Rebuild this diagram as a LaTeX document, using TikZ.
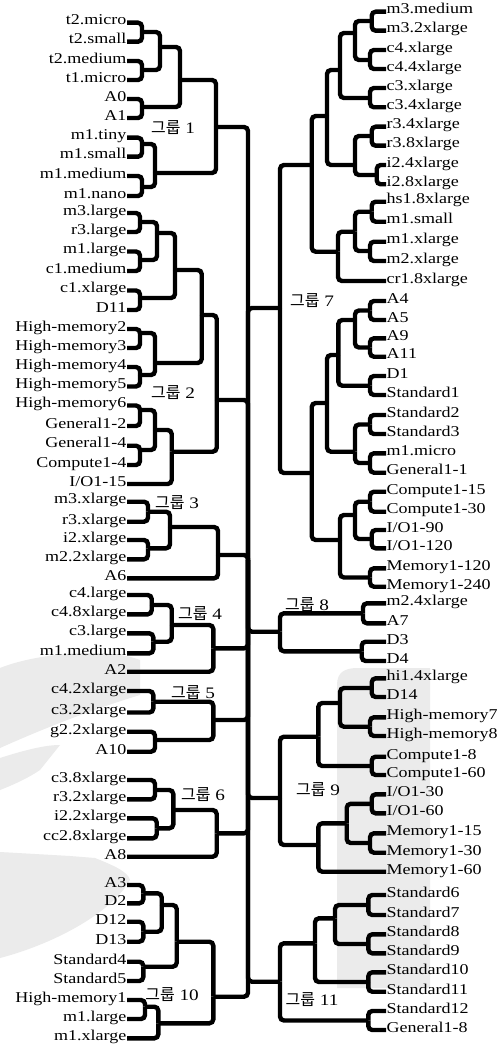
\documentclass[tikz,border=0pt]{standalone}
\usepackage{fontspec}
\setmainfont{Liberation Serif}[FakeStretch=1.2]
\newfontfamily\kor{Noto Sans CJK KR}
\definecolor{wm}{HTML}{EBEBEB}
\begin{document}
\begin{tikzpicture}[x=1pt,y=-1pt,
  tree/.style={line width=4.4pt, rounded corners=4pt},
  lleaf/.style={anchor=mid east, inner xsep=0.5pt, inner ysep=0pt, font=\fontsize{15}{15}\selectfont},
  rleaf/.style={anchor=mid west, inner xsep=0.5pt, inner ysep=0pt, font=\fontsize{15}{15}\selectfont},
  glabel/.style={inner sep=0pt, font=\fontsize{16}{16}\selectfont},
  mark/.style={fill=wm, draw=none}
]
\fill[white] (0,0) rectangle (502,1051);
\useasboundingbox (0,0) rectangle (502,1051);

% ---------- faint background marks ----------
\fill[wm] (0,668) .. controls (40,652) and (110,648) .. (140,660) -- (140,695) .. controls (90,710) and (40,730) .. (0,748) -- cycle;
\fill[wm] (0,758) .. controls (25,750) and (45,745) .. (60,745) -- (40,770) .. controls (25,780) and (10,786) .. (0,790) -- cycle;
\fill[wm] (0,852) -- (70,856) -- (95,858) .. controls (115,866) and (128,872) .. (130,880) .. controls (110,915) and (50,945) .. (0,958) -- cycle;
\fill[wm] (337,685) .. controls (337,672) and (345,668) .. (358,668) -- (430,668) -- (430,988) -- (337,988) -- cycle;

% ---------- left leaves ----------
\node[lleaf] (L1) at (127,22.7) {t2.micro};
\node[lleaf] (L2) at (127,41.7) {t2.small};
\node[lleaf] (L3) at (127,61) {t2.medium};
\node[lleaf] (L4) at (127,80) {t1.micro};
\node[lleaf] (L5) at (127,99) {A0};
\node[lleaf] (L6) at (127,118) {A1};
\node[lleaf] (L7) at (127,137.7) {m1.tiny};
\node[lleaf] (L8) at (127,156.7) {m1.small};
\node[lleaf] (L9) at (127,176) {m1.medium};
\node[lleaf] (L10) at (127,196) {m1.nano};
\node[lleaf] (L11) at (127,213) {m3.large};
\node[lleaf] (L12) at (127,232) {r3.large};
\node[lleaf] (L13) at (127,251.5) {m1.large};
\node[lleaf] (L14) at (127,271) {c1.medium};
\node[lleaf] (L15) at (127,290.5) {c1.xlarge};
\node[lleaf] (L16) at (127,310) {D11};
\node[lleaf] (L17) at (127,329) {High-memory2};
\node[lleaf] (L18) at (127,348) {High-memory3};
\node[lleaf] (L19) at (127,367) {High-memory4};
\node[lleaf] (L20) at (127,386.5) {High-memory5};
\node[lleaf] (L21) at (127,405.5) {High-memory6};
\node[lleaf] (L22) at (127,426) {General1-2};
\node[lleaf] (L23) at (127,445.7) {General1-4};
\node[lleaf] (L24) at (127,465) {Compute1-4};
\node[lleaf] (L25) at (127,484) {I/O1-15};
\node[lleaf] (L26) at (127,501.7) {m3.xlarge};
\node[lleaf] (L27) at (127,521.7) {r3.xlarge};
\node[lleaf] (L28) at (127,540) {i2.xlarge};
\node[lleaf] (L29) at (127,559.3) {m2.2xlarge};
\node[lleaf] (L30) at (127,578.3) {A6};
\node[lleaf] (L31) at (127,595) {c4.large};
\node[lleaf] (L32) at (127,614.3) {c4.8xlarge};
\node[lleaf] (L33) at (127,633.3) {c3.large};
\node[lleaf] (L34) at (127,653.3) {m1.medium};
\node[lleaf] (L35) at (127,671.7) {A2};
\node[lleaf] (L36) at (127,691) {c4.2xlarge};
\node[lleaf] (L37) at (127,712.5) {c3.2xlarge};
\node[lleaf] (L38) at (127,731.7) {g2.2xlarge};
\node[lleaf] (L39) at (127,751.7) {A10};
\node[lleaf] (L40) at (127,780) {c3.8xlarge};
\node[lleaf] (L41) at (127,799.3) {r3.2xlarge};
\node[lleaf] (L42) at (127,818.3) {i2.2xlarge};
\node[lleaf] (L43) at (127,838.3) {cc2.8xlarge};
\node[lleaf] (L44) at (127,856.7) {A8};
\node[lleaf] (L45) at (127,885) {A3};
\node[lleaf] (L46) at (127,903.3) {D2};
\node[lleaf] (L47) at (127,921.7) {D12};
\node[lleaf] (L48) at (127,941.7) {D13};
\node[lleaf] (L49) at (127,961.7) {Standard4};
\node[lleaf] (L50) at (127,981) {Standard5};
\node[lleaf] (L51) at (127,1000) {High-memory1};
\node[lleaf] (L52) at (127,1019) {m1.large};
\node[lleaf] (L53) at (127,1038.3) {m1.xlarge};

% ---------- right leaves ----------
\node[rleaf] (R1) at (386,11.7) {m3.medium};
\node[rleaf] (R2) at (386,30.7) {m3.2xlarge};
\node[rleaf] (R3) at (386,50) {c4.xlarge};
\node[rleaf] (R4) at (386,69) {c4.4xlarge};
\node[rleaf] (R5) at (386,88) {c3.xlarge};
\node[rleaf] (R6) at (386,107.3) {c3.4xlarge};
\node[rleaf] (R7) at (386,126.7) {r3.4xlarge};
\node[rleaf] (R8) at (386,145.7) {r3.8xlarge};
\node[rleaf] (R9) at (386,165) {i2.4xlarge};
\node[rleaf] (R10) at (386,184.3) {i2.8xlarge};
\node[rleaf] (R11) at (386,201.7) {hs1.8xlarge};
\node[rleaf] (R12) at (386,221.7) {m1.small};
\node[rleaf] (R13) at (386,241.7) {m1.xlarge};
\node[rleaf] (R14) at (386,261) {m2.xlarge};
\node[rleaf] (R15) at (386,281) {cr1.8xlarge};
\node[rleaf] (R16) at (386,301) {A4};
\node[rleaf] (R17) at (386,320) {A5};
\node[rleaf] (R18) at (386,338.3) {A9};
\node[rleaf] (R19) at (386,356.7) {A11};
\node[rleaf] (R20) at (386,376) {D1};
\node[rleaf] (R21) at (386,395) {Standard1};
\node[rleaf] (R22) at (386,415) {Standard2};
\node[rleaf] (R23) at (386,434) {Standard3};
\node[rleaf] (R24) at (386,453.3) {m1.micro};
\node[rleaf] (R25) at (386,472.7) {General1-1};
\node[rleaf] (R26) at (386,491.7) {Compute1-15};
\node[rleaf] (R27) at (386,511.7) {Compute1-30};
\node[rleaf] (R28) at (386,530) {I/O1-90};
\node[rleaf] (R29) at (386,548.3) {I/O1-120};
\node[rleaf] (R30) at (386,568.3) {Memory1-120};
\node[rleaf] (R31) at (386,586.7) {Memory1-240};
\node[rleaf] (R32) at (386,603.3) {m2.4xlarge};
\node[rleaf] (R33) at (386,623.3) {A7};
\node[rleaf] (R34) at (386,641.7) {D3};
\node[rleaf] (R35) at (386,661) {D4};
\node[rleaf] (R36) at (386,678.3) {hi1.4xlarge};
\node[rleaf] (R37) at (386,697) {D14};
\node[rleaf] (R38) at (386,717.3) {High-memory7};
\node[rleaf] (R39) at (386,736) {High-memory8};
\node[rleaf] (R40) at (386,756.7) {Compute1-8};
\node[rleaf] (R41) at (386,775) {Compute1-60};
\node[rleaf] (R42) at (386,794.3) {I/O1-30};
\node[rleaf] (R43) at (386,813.3) {I/O1-60};
\node[rleaf] (R44) at (386,833.3) {Memory1-15};
\node[rleaf] (R45) at (386,852.7) {Memory1-30};
\node[rleaf] (R46) at (386,871.7) {Memory1-60};
\node[rleaf] (R47) at (386,895) {Standard6};
\node[rleaf] (R48) at (386,915) {Standard7};
\node[rleaf] (R49) at (386,934.3) {Standard8};
\node[rleaf] (R50) at (386,953.3) {Standard9};
\node[rleaf] (R51) at (386,972.3) {Standard10};
\node[rleaf] (R52) at (386,991.7) {Standard11};
\node[rleaf] (R53) at (386,1011) {Standard12};
\node[rleaf] (R54) at (386,1030) {General1-8};

% ---------- merge points (left) ----------
\coordinate (a1) at (142,32);
\coordinate (a2) at (142,70);
\coordinate (a3) at (160,47);
\coordinate (a4) at (142,107);
\coordinate (a5) at (180,80);
\coordinate (a6) at (142,144);
\coordinate (a7) at (142,187);
\coordinate (a8) at (155,173);
\coordinate (g1) at (216,127);
\coordinate (b1) at (140,222);
\coordinate (b2) at (140,260);
\coordinate (b3) at (157,233);
\coordinate (b4) at (140,298);
\coordinate (b5) at (175,270);
\coordinate (b6) at (140,333);
\coordinate (b7) at (140,375);
\coordinate (b8) at (155,363);
\coordinate (b9) at (201.7,315);
\coordinate (b10) at (140,410);
\coordinate (b11) at (140,450);
\coordinate (b12) at (155,430);
\coordinate (b13) at (171.7,451.7);
\coordinate (g2) at (216.7,400);
\coordinate (c1) at (148,511.7);
\coordinate (c2) at (148,548.3);
\coordinate (c3) at (170,527);
\coordinate (g3) at (218,555);
\coordinate (d1) at (151.7,605);
\coordinate (d2) at (153.3,641.7);
\coordinate (d3) at (171.7,625);
\coordinate (g4) at (213.3,648.3);
\coordinate (e1) at (153.3,701.7);
\coordinate (e2) at (155,740);
\coordinate (g5) at (213.3,720);
\coordinate (f1) at (155,790);
\coordinate (f2) at (156.7,828.3);
\coordinate (f3) at (173.3,810);
\coordinate (g6) at (216.7,833.3);
\coordinate (h1) at (143.3,893.3);
\coordinate (h2) at (143.3,931.7);
\coordinate (h3) at (161.7,905);
\coordinate (h4) at (143.3,966.7);
\coordinate (h5) at (176.7,941.7);
\coordinate (h6) at (145,1006.7);
\coordinate (h7) at (158.3,1023.3);
\coordinate (g10) at (213.3,996.7);
% ---------- merge points (right) ----------
\coordinate (r1) at (371.7,21);
\coordinate (r2) at (370,60);
\coordinate (r3) at (355,33);
\coordinate (r4) at (370,98);
\coordinate (r5) at (340,70);
\coordinate (r6) at (371.7,136);
\coordinate (r7) at (376.7,175);
\coordinate (r8) at (355,165);
\coordinate (r9) at (327,116);
\coordinate (r10) at (371.7,211.7);
\coordinate (r11) at (370,251);
\coordinate (r12) at (355,231.7);
\coordinate (r13) at (338,251.7);
\coordinate (r14) at (311.7,165);
\coordinate (r15) at (370,310.5);
\coordinate (r16) at (370,347.5);
\coordinate (r17) at (355,320);
\coordinate (r18) at (370,385.7);
\coordinate (r19) at (338.3,355);
\coordinate (r20) at (370,424.5);
\coordinate (r21) at (370,463);
\coordinate (r22) at (355,451.7);
\coordinate (r23) at (327,403);
\coordinate (r24) at (370,501.7);
\coordinate (r25) at (371.7,539);
\coordinate (r26) at (355,515);
\coordinate (r27) at (370,577.5);
\coordinate (r28) at (340,540);
\coordinate (r29) at (311.7,473);
\coordinate (g7) at (280,308);
\coordinate (s1) at (363,613.3);
\coordinate (s2) at (361.7,651.3);
\coordinate (g8) at (280,631.7);
\coordinate (t1) at (371.7,688);
\coordinate (t2) at (370,726.7);
\coordinate (t3) at (340,703);
\coordinate (t4) at (371.7,766);
\coordinate (t5) at (318.3,736.7);
\coordinate (t6) at (371.7,803.8);
\coordinate (t7) at (370,843);
\coordinate (t8) at (346.7,823.3);
\coordinate (t9) at (318.3,845);
\coordinate (g9) at (280,798);
\coordinate (u1) at (368.3,905);
\coordinate (u2) at (368.3,944);
\coordinate (u3) at (335,918.3);
\coordinate (u4) at (368.3,982);
\coordinate (u5) at (315,943.3);
\coordinate (u6) at (368.3,1020.5);
\coordinate (g11) at (280,981.7);
\coordinate (root) at (248,560);

% ---------- connectors ----------
\begin{scope}[tree]
% group 1
\draw (L1.mid east) -| (a1); \draw (L2.mid east) -| (a1);
\draw (L3.mid east) -| (a2); \draw (L4.mid east) -| (a2);
\draw (a1) -| (a3); \draw (a2) -| (a3);
\draw (L5.mid east) -| (a4); \draw (L6.mid east) -| (a4);
\draw (a3) -| (a5); \draw (a4) -| (a5);
\draw (L7.mid east) -| (a6); \draw (L8.mid east) -| (a6);
\draw (L9.mid east) -| (a7); \draw (L10.mid east) -| (a7);
\draw (a6) -| (a8); \draw (a7) -| (a8);
\draw (a5) -| (g1); \draw (a8) -| (g1);
% group 2
\draw (L11.mid east) -| (b1); \draw (L12.mid east) -| (b1);
\draw (L13.mid east) -| (b2); \draw (L14.mid east) -| (b2);
\draw (b1) -| (b3); \draw (b2) -| (b3);
\draw (L15.mid east) -| (b4); \draw (L16.mid east) -| (b4);
\draw (b3) -| (b5); \draw (b4) -| (b5);
\draw (L17.mid east) -| (b6); \draw (L18.mid east) -| (b6);
\draw (L19.mid east) -| (b7); \draw (L20.mid east) -| (b7);
\draw (b6) -| (b8); \draw (b7) -| (b8);
\draw (b5) -| (b9); \draw (b8) -| (b9);
\draw (L21.mid east) -| (b10); \draw (L22.mid east) -| (b10);
\draw (L23.mid east) -| (b11); \draw (L24.mid east) -| (b11);
\draw (b10) -| (b12); \draw (b11) -| (b12);
\draw (b12) -| (b13); \draw (L25.mid east) -| (b13);
\draw (b9) -| (g2); \draw (b13) -| (g2);
% group 3
\draw (L26.mid east) -| (c1); \draw (L27.mid east) -| (c1);
\draw (L28.mid east) -| (c2); \draw (L29.mid east) -| (c2);
\draw (c1) -| (c3); \draw (c2) -| (c3);
\draw (c3) -| (g3); \draw (L30.mid east) -| (g3);
% group 4
\draw (L31.mid east) -| (d1); \draw (L32.mid east) -| (d1);
\draw (L33.mid east) -| (d2); \draw (L34.mid east) -| (d2);
\draw (d1) -| (d3); \draw (d2) -| (d3);
\draw (d3) -| (g4); \draw (L35.mid east) -| (g4);
% group 5
\draw (L36.mid east) -| (e1); \draw (L37.mid east) -| (e1);
\draw (L38.mid east) -| (e2); \draw (L39.mid east) -| (e2);
\draw (e1) -| (g5); \draw (e2) -| (g5);
% group 6
\draw (L40.mid east) -| (f1); \draw (L41.mid east) -| (f1);
\draw (L42.mid east) -| (f2); \draw (L43.mid east) -| (f2);
\draw (f1) -| (f3); \draw (f2) -| (f3);
\draw (f3) -| (g6); \draw (L44.mid east) -| (g6);
% group 10
\draw (L45.mid east) -| (h1); \draw (L46.mid east) -| (h1);
\draw (L47.mid east) -| (h2); \draw (L48.mid east) -| (h2);
\draw (h1) -| (h3); \draw (h2) -| (h3);
\draw (L49.mid east) -| (h4); \draw (L50.mid east) -| (h4);
\draw (h3) -| (h5); \draw (h4) -| (h5);
\draw (L51.mid east) -| (h6); \draw (L52.mid east) -| (h6);
\draw (h6) -| (h7); \draw (L53.mid east) -| (h7);
\draw (h5) -| (g10); \draw (h7) -| (g10);
% group 7
\draw (R1.mid west) -| (r1); \draw (R2.mid west) -| (r1);
\draw (R3.mid west) -| (r2); \draw (R4.mid west) -| (r2);
\draw (r1) -| (r3); \draw (r2) -| (r3);
\draw (R5.mid west) -| (r4); \draw (R6.mid west) -| (r4);
\draw (r3) -| (r5); \draw (r4) -| (r5);
\draw (R7.mid west) -| (r6); \draw (R8.mid west) -| (r6);
\draw (R9.mid west) -| (r7); \draw (R10.mid west) -| (r7);
\draw (r6) -| (r8); \draw (r7) -| (r8);
\draw (r5) -| (r9); \draw (r8) -| (r9);
\draw (R11.mid west) -| (r10); \draw (R12.mid west) -| (r10);
\draw (R13.mid west) -| (r11); \draw (R14.mid west) -| (r11);
\draw (r10) -| (r12); \draw (r11) -| (r12);
\draw (r12) -| (r13); \draw (R15.mid west) -| (r13);
\draw (r9) -| (r14); \draw (r13) -| (r14);
\draw (R16.mid west) -| (r15); \draw (R17.mid west) -| (r15);
\draw (R18.mid west) -| (r16); \draw (R19.mid west) -| (r16);
\draw (r15) -| (r17); \draw (r16) -| (r17);
\draw (R20.mid west) -| (r18); \draw (R21.mid west) -| (r18);
\draw (r17) -| (r19); \draw (r18) -| (r19);
\draw (R22.mid west) -| (r20); \draw (R23.mid west) -| (r20);
\draw (R24.mid west) -| (r21); \draw (R25.mid west) -| (r21);
\draw (r20) -| (r22); \draw (r21) -| (r22);
\draw (r19) -| (r23); \draw (r22) -| (r23);
\draw (R26.mid west) -| (r24); \draw (R27.mid west) -| (r24);
\draw (R28.mid west) -| (r25); \draw (R29.mid west) -| (r25);
\draw (r24) -| (r26); \draw (r25) -| (r26);
\draw (R30.mid west) -| (r27); \draw (R31.mid west) -| (r27);
\draw (r26) -| (r28); \draw (r27) -| (r28);
\draw (r23) -| (r29); \draw (r28) -| (r29);
\draw (r14) -| (g7); \draw (r29) -| (g7);
% group 8
\draw (R32.mid west) -| (s1); \draw (R33.mid west) -| (s1);
\draw (R34.mid west) -| (s2); \draw (R35.mid west) -| (s2);
\draw (s1) -| (g8); \draw (s2) -| (g8);
% group 9
\draw (R36.mid west) -| (t1); \draw (R37.mid west) -| (t1);
\draw (R38.mid west) -| (t2); \draw (R39.mid west) -| (t2);
\draw (t1) -| (t3); \draw (t2) -| (t3);
\draw (R40.mid west) -| (t4); \draw (R41.mid west) -| (t4);
\draw (t3) -| (t5); \draw (t4) -| (t5);
\draw (R42.mid west) -| (t6); \draw (R43.mid west) -| (t6);
\draw (R44.mid west) -| (t7); \draw (R45.mid west) -| (t7);
\draw (t6) -| (t8); \draw (t7) -| (t8);
\draw (t8) -| (t9); \draw (R46.mid west) -| (t9);
\draw (t5) -| (g9); \draw (t9) -| (g9);
% group 11
\draw (R47.mid west) -| (u1); \draw (R48.mid west) -| (u1);
\draw (R49.mid west) -| (u2); \draw (R50.mid west) -| (u2);
\draw (u1) -| (u3); \draw (u2) -| (u3);
\draw (R51.mid west) -| (u4); \draw (R52.mid west) -| (u4);
\draw (u3) -| (u5); \draw (u4) -| (u5);
\draw (R53.mid west) -| (u6); \draw (R54.mid west) -| (u6);
\draw (u5) -| (g11); \draw (u6) -| (g11);
% root
\draw (g1) -| (root); \draw (g2) -| (root); \draw (g3) -| (root);
\draw (g4) -| (root); \draw (g5) -| (root); \draw (g6) -| (root);
\draw (g10) -| (root); \draw (g7) -| (root); \draw (g8) -| (root);
\draw (g9) -| (root); \draw (g11) -| (root);
\end{scope}

% ---------- group labels ----------
\node[glabel] (G1) at (173,128) {{\kor 그룹} 1};
\node[glabel] (G2) at (173,393) {{\kor 그룹} 2};
\node[glabel] (G3) at (177,503) {{\kor 그룹} 3};
\node[glabel] (G4) at (200,614) {{\kor 그룹} 4};
\node[glabel] (G5) at (193,693) {{\kor 그룹} 5};
\node[glabel] (G6) at (203,795) {{\kor 그룹} 6};
\node[glabel] (G10) at (172,995) {{\kor 그룹} 10};
\node[glabel] (G7) at (312,301) {{\kor 그룹} 7};
\node[glabel] (G8) at (307,605) {{\kor 그룹} 8};
\node[glabel] (G9) at (318,790) {{\kor 그룹} 9};
\node[glabel] (G11) at (312,1000) {{\kor 그룹} 11};
\end{tikzpicture}
\end{document}
